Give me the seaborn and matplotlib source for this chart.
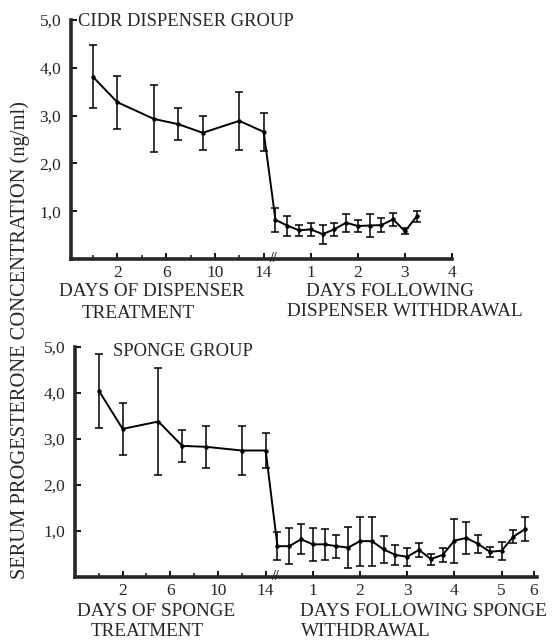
import numpy as np
import pandas as pd
import matplotlib
matplotlib.use("Agg")
import matplotlib.pyplot as plt
import seaborn as sns

# ---------------- data ----------------
# CIDR dispenser group
cidr_treat_days = [0, 2, 5, 7, 9, 12, 14]
cidr_treat_mean = [3.81, 3.28, 2.93, 2.82, 2.64, 2.89, 2.66]
cidr_treat_err = [0.66, 0.55, 0.70, 0.33, 0.36, 0.60, 0.40]
cidr_post_days = [0.25, 0.5, 0.75, 1.0, 1.25, 1.5, 1.75, 2.0, 2.25, 2.5, 2.75, 3.0, 3.25]
cidr_post_mean = [0.82, 0.70, 0.60, 0.62, 0.52, 0.62, 0.76, 0.69, 0.70, 0.71, 0.83, 0.58, 0.89]
cidr_post_err = [0.25, 0.21, 0.12, 0.14, 0.20, 0.13, 0.19, 0.13, 0.24, 0.14, 0.14, 0.06, 0.11]

# Sponge group
sponge_treat_days = [0, 2, 5, 7, 9, 12, 14]
sponge_treat_mean = [4.05, 3.22, 3.38, 2.85, 2.83, 2.75, 2.75]
sponge_treat_err = [0.80, 0.56, 1.16, 0.35, 0.45, 0.53, 0.39]
sponge_post_days = [0.25, 0.5, 0.75, 1.0, 1.25, 1.5, 1.75, 2.0, 2.25, 2.5, 2.75,
                    3.0, 3.25, 3.5, 3.75, 4.0, 4.25, 4.5, 4.75, 5.0, 5.25, 5.5]
sponge_post_mean = [0.67, 0.67, 0.82, 0.71, 0.71, 0.67, 0.64, 0.78, 0.78, 0.60, 0.48,
                    0.44, 0.59, 0.39, 0.48, 0.79, 0.85, 0.72, 0.55, 0.57, 0.88, 1.04]
sponge_post_err = [0.30, 0.39, 0.33, 0.36, 0.33, 0.25, 0.44, 0.53, 0.53, 0.30, 0.22,
                   0.20, 0.15, 0.12, 0.16, 0.48, 0.34, 0.19, 0.11, 0.19, 0.14, 0.26]

y_ticks = [1, 2, 3, 4, 5]
y_ticklabels = ["1,0", "2,0", "3,0", "4,0", "5,0"]
treat_ticks = [2, 6, 10, 14]
treat_minor = [0, 4, 8, 12]
cidr_post_ticks = [1, 2, 3, 4]
sponge_post_ticks = [1, 2, 3, 4, 5]

WITHDRAW_DAY = 14

# ---------------- style ----------------
sns.set_style("ticks")
plt.rcParams["font.family"] = ["Liberation Serif", "DejaVu Serif"]
plt.rcParams["axes.linewidth"] = 2.5

W, H = 553, 641
fig = plt.figure(figsize=(W / 100, H / 100), dpi=100)


def px_axes(x0, y0, x1, y1):
    return fig.add_axes([x0 / W, 1 - y1 / H, (x1 - x0) / W, (y1 - y0) / H])


def make_scale(k):
    def fwd(t):
        t = np.asarray(t, dtype=float)
        return np.where(t <= WITHDRAW_DAY, t, WITHDRAW_DAY + (t - WITHDRAW_DAY) * k)

    def inv(u):
        u = np.asarray(u, dtype=float)
        return np.where(u <= WITHDRAW_DAY, u, WITHDRAW_DAY + (u - WITHDRAW_DAY) / k)

    return fwd, inv


def panel(ax, tdays, tmean, terr, pdays, pmean, perr, k, xmin, xmax,
          post_ticks, extra_tick=None):
    df = pd.DataFrame({
        "t": list(tdays) + [WITHDRAW_DAY + d for d in pdays],
        "y": list(tmean) + list(pmean),
        "err": list(terr) + list(perr),
    })
    sns.lineplot(data=df, x="t", y="y", ax=ax, color="black", lw=1.4,
                 marker="o", markersize=3.2, markeredgewidth=0,
                 estimator=None, sort=False, legend=False)
    ax.errorbar(df["t"], df["y"], yerr=df["err"], fmt="none", ecolor="black",
                elinewidth=1.1, capsize=2.6, capthick=1.1)
    ax.set_xscale("function", functions=make_scale(k))
    ax.set_xlim(xmin, xmax)
    ax.set_ylim(0, 5)
    ax.set_xlabel("")
    ax.set_ylabel("")
    sns.despine(ax=ax)
    ax.spines["left"].set_linewidth(2.6)
    ax.spines["bottom"].set_linewidth(2.6)

    ticks = list(treat_ticks) + [WITHDRAW_DAY + d for d in post_ticks]
    labels = [str(v) for v in treat_ticks] + [str(d) for d in post_ticks]
    if extra_tick is not None:
        ticks.append(WITHDRAW_DAY + extra_tick[0])
        labels.append(extra_tick[1])
    ax.set_xticks(ticks)
    ax.set_xticklabels(labels)
    ax.set_xticks(treat_minor, minor=True)
    ax.set_yticks(y_ticks)
    ax.set_yticklabels(y_ticklabels)
    ax.tick_params(axis="both", which="major", direction="in", length=4,
                   width=1.3, labelsize=12.5, color="black")
    ax.tick_params(axis="x", which="major", pad=4)
    ax.tick_params(axis="y", which="major", pad=7)
    ax.tick_params(axis="x", which="minor", direction="in", length=3, width=1.2)
    # axis break mark
    ax.text(WITHDRAW_DAY + 0.2, 0, "//", ha="center", va="center",
            fontsize=10, fontweight="bold", clip_on=False)


# top panel
ax1 = px_axes(71, 20, 452, 259)
panel(ax1, cidr_treat_days, cidr_treat_mean, cidr_treat_err,
      cidr_post_days, cidr_post_mean, cidr_post_err,
      k=3.86, xmin=-1.8, xmax=WITHDRAW_DAY + 4, post_ticks=cidr_post_ticks)

# bottom panel
ax2 = px_axes(75, 347, 537, 577)
panel(ax2, sponge_treat_days, sponge_treat_mean, sponge_treat_err,
      sponge_post_days, sponge_post_mean, sponge_post_err,
      k=3.96, xmin=-2.0, xmax=WITHDRAW_DAY + 5.75, post_ticks=sponge_post_ticks,
      extra_tick=(5.68, "6"))


def ftext(px, py, s, size=13.8, **kw):
    fig.text(px / W, 1 - py / H, s, fontsize=size, va="center", **kw)


# panel titles
ftext(78, 22, "CIDR DISPENSER GROUP", size=13.3, ha="left")
ftext(113, 352, "SPONGE GROUP", size=13.3, ha="left")

# x-axis captions
ftext(59, 291, "DAYS OF DISPENSER", ha="left")
ftext(82, 314, "TREATMENT", ha="left")
ftext(306, 292, "DAYS FOLLOWING", ha="left")
ftext(287, 311, "DISPENSER WITHDRAWAL", ha="left")

ftext(77, 612, "DAYS OF SPONGE", ha="left")
ftext(91, 632, "TREATMENT", ha="left")
ftext(300, 612, "DAYS FOLLOWING SPONGE", ha="left")
ftext(301, 632, "WITHDRAWAL", ha="left")

# shared y label
fig.text(20 / W, 1 - 340 / H, "SERUM PROGESTERONE CONCENTRATION (ng/ml)",
         rotation=90, ha="center", va="center", fontsize=14.8)

fig.savefig("out.png", dpi=100)
